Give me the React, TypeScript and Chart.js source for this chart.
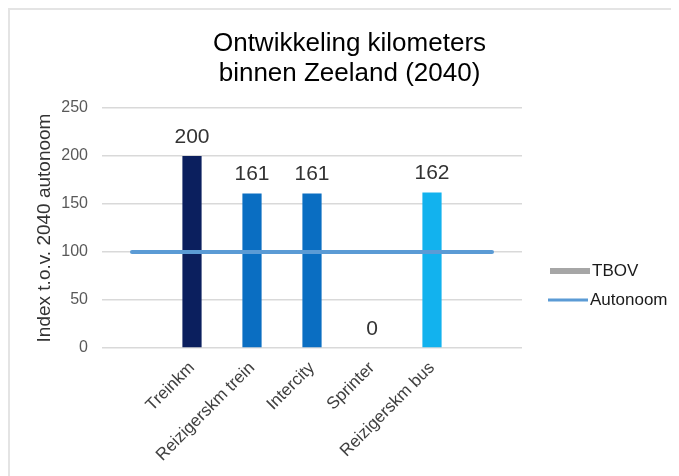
import React, { useEffect, useRef } from "react";
import { Chart, registerables } from "chart.js";

Chart.register(...registerables);

// Categories (empty slots at both ends keep the reference line running wide)
const categories = ["", "Treinkm", "Reizigerskm trein", "Intercity", "Sprinter", "Reizigerskm bus", ""];
const indexValues: (number | null)[] = [null, 200, 161, 161, 0, 162, null];
const barColors = ["rgba(0,0,0,0)", "#0B1F5E", "#0A6EC2", "#0A6EC2", "#0A6EC2", "#12B2EE", "rgba(0,0,0,0)"];
const tbovValues = [100, 100, 100, 100, 100, 100, 100];
const autonoomValues = [100, 100, 100, 100, 100, 100, 100];
const yTicks = [0, 50, 100, 150, 200, 250];

const titleLines = ["Ontwikkeling kilometers", "binnen Zeeland (2040)"];
const yAxisTitle = "Index t.o.v. 2040 autonoom";
const legendItems = [
  { label: "TBOV", color: "#A6A6A6", width: 6 },
  { label: "Autonoom", color: "#5B9BD5", width: 3 },
];

const FONT = '"Liberation Sans", Arial, sans-serif';

const titlePlugin = {
  id: "twoLineTitle",
  afterDraw(chart: any) {
    const { ctx } = chart;
    ctx.save();
    ctx.font = `26px ${FONT}`;
    ctx.fillStyle = "#000000";
    ctx.textAlign = "center";
    ctx.textBaseline = "middle";
    const cx = chart.width / 2 + 5;
    titleLines.forEach((line, i) => ctx.fillText(line, cx, 34 + i * 30));
    ctx.restore();
  },
};

// Rotated y-axis caption, centred on the plot area
const yTitlePlugin = {
  id: "yCaption",
  afterDraw(chart: any) {
    const { ctx, chartArea } = chart;
    ctx.save();
    ctx.font = `19px ${FONT}`;
    ctx.fillStyle = "#333333";
    ctx.textAlign = "center";
    ctx.textBaseline = "middle";
    ctx.translate(35, (chartArea.top + chartArea.bottom) / 2);
    ctx.rotate(-Math.PI / 2);
    ctx.fillText(yAxisTitle, 0, 0);
    ctx.restore();
  },
};

const valueLabelPlugin = {
  id: "valueLabels",
  afterDatasetsDraw(chart: any) {
    const { ctx } = chart;
    const meta = chart.getDatasetMeta(0);
    ctx.save();
    ctx.font = `21px ${FONT}`;
    ctx.fillStyle = "#333333";
    ctx.textAlign = "center";
    ctx.textBaseline = "middle";
    indexValues.forEach((v, i) => {
      if (v === null) return;
      const bar = meta.data[i];
      ctx.fillText(String(v), bar.x, bar.y - 19);
    });
    ctx.restore();
  },
};

const sideLegendPlugin = {
  id: "sideLegend",
  afterDraw(chart: any) {
    const { ctx, chartArea } = chart;
    ctx.save();
    ctx.font = `17px ${FONT}`;
    ctx.textBaseline = "middle";
    ctx.textAlign = "left";
    legendItems.forEach((item, i) => {
      const y = chartArea.top + 163 + i * 29;
      const x0 = chartArea.right + 28 - i * 2;
      ctx.strokeStyle = item.color;
      ctx.lineWidth = item.width;
      ctx.lineCap = "butt";
      ctx.beginPath();
      ctx.moveTo(x0, y);
      ctx.lineTo(x0 + 40, y);
      ctx.stroke();
      ctx.fillStyle = "#1a1a1a";
      ctx.fillText(item.label, x0 + 42, y);
    });
    ctx.restore();
  },
};

export default function App() {
  const canvasRef = useRef<HTMLCanvasElement | null>(null);

  useEffect(() => {
    if (!canvasRef.current) return;
    const chart = new Chart(canvasRef.current, {
      type: "bar",
      data: {
        labels: categories,
        datasets: [
          {
            type: "bar",
            label: "Index",
            data: indexValues,
            backgroundColor: barColors,
            categoryPercentage: 1,
            barPercentage: 0.32,
            order: 2,
          } as any,
          {
            type: "line",
            label: "TBOV",
            data: tbovValues,
            borderColor: "#A6A6A6",
            borderWidth: 4,
            pointRadius: 0,
            order: 1,
          },
          {
            type: "line",
            label: "Autonoom",
            data: autonoomValues,
            borderColor: "#5B9BD5",
            borderWidth: 4,
            borderCapStyle: "round",
            pointRadius: 0,
            order: 0,
          },
        ],
      },
      options: {
        animation: false,
        responsive: true,
        maintainAspectRatio: false,
        layout: { padding: { top: 98, right: 157, left: 0, bottom: 0 } },
        plugins: {
          legend: { display: false },
          title: { display: false },
          tooltip: { enabled: false },
        },
        scales: {
          x: {
            offset: true,
            grid: { display: false },
            border: { display: false },
            ticks: {
              minRotation: 45,
              maxRotation: 45,
              autoSkip: false,
              padding: 2,
              color: "#404040",
              font: { family: FONT, size: 17 },
            },
            afterFit(scale: any) {
              scale.height = 128;
            },
          },
          y: {
            min: yTicks[0],
            max: yTicks[yTicks.length - 1],
            grid: { color: "#D9D9D9", lineWidth: 1.5, drawTicks: false },
            border: { display: false },
            ticks: {
              stepSize: yTicks[1] - yTicks[0],
              padding: 14,
              color: "#595959",
              font: { family: FONT, size: 16 },
            },
            afterFit(scale: any) {
              scale.width = 92;
            },
          },
        },
      },
      plugins: [titlePlugin, yTitlePlugin, valueLabelPlugin, sideLegendPlugin],
    });
    return () => chart.destroy();
  }, []);

  return (
    <div
      style={{
        width: 671,
        height: 468,
        boxSizing: "border-box",
        borderTop: "2px solid #E4E4E4",
        borderLeft: "2px solid #E4E4E4",
        background: "#ffffff",
      }}
    >
      <div style={{ position: "relative", width: 669, height: 466 }}>
        <canvas ref={canvasRef} />
      </div>
    </div>
  );
}
